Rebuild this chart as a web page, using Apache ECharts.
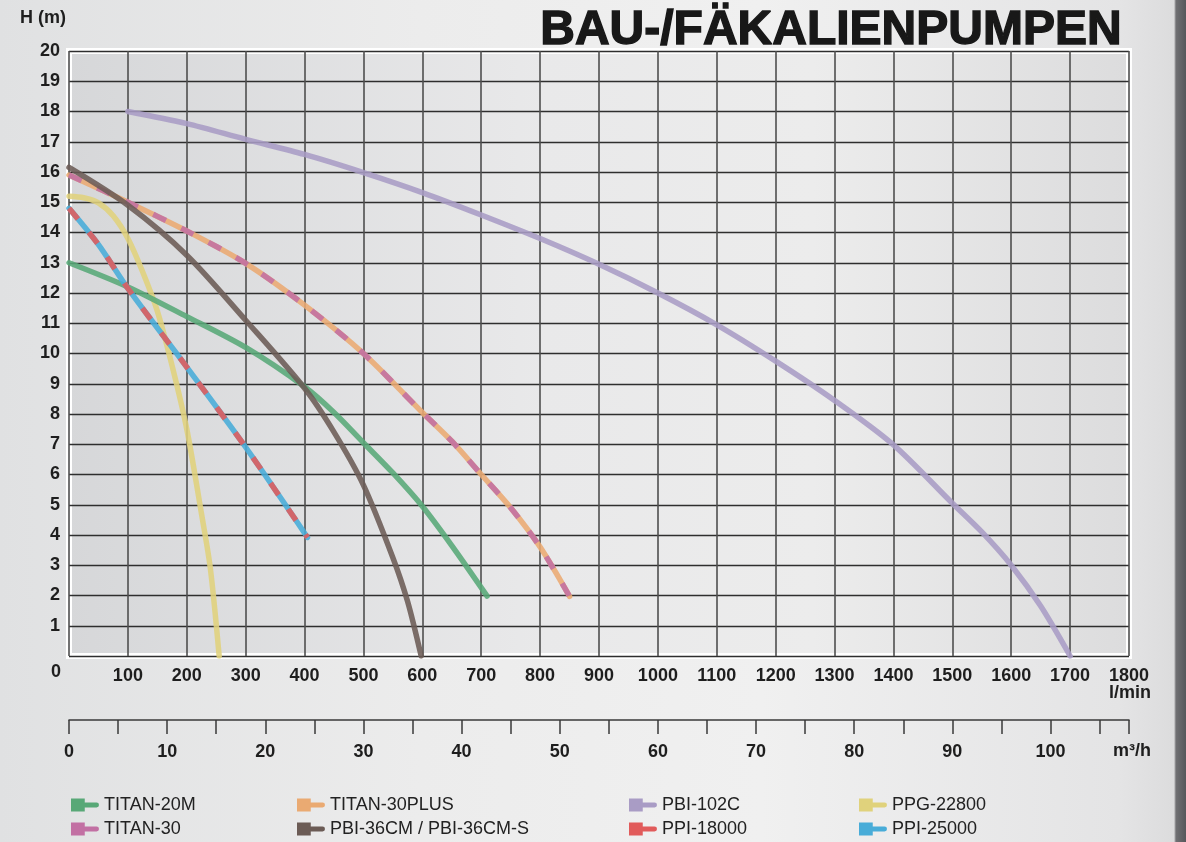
<!DOCTYPE html>
<html><head><meta charset="utf-8">
<script src="https://cdn.jsdelivr.net/npm/echarts@6/dist/echarts.min.js"></script>
<style>
html,body{margin:0;padding:0;}
body{width:1186px;height:842px;overflow:hidden;background:linear-gradient(to right,#e0e1e2 0px,#ececec 420px,#f0f0f0 760px,#e4e4e5 1120px,#dcdcdd 1174px,#707073 1176px,#56575b 1186px);}
#chart{width:1186px;height:842px;}
</style></head><body><div id="chart"></div>
<script>
// ---- data (flow l/min, head m) ----
const flowTicks = [0,100,200,300,400,500,600,700,800,900,1000,1100,1200,1300,1400,1500,1600,1700,1800];
const headTicks = [0,1,2,3,4,5,6,7,8,9,10,11,12,13,14,15,16,17,18,19,20];
const m3hTicks  = [0,5,10,15,20,25,30,35,40,45,50,55,60,65,70,75,80,85,90,95,100,105,108];
const m3hLabels = [0,10,20,30,40,50,60,70,80,90,100];

const titan20m  = [[0,13.0],[100,12.2],[200,11.22],[300,10.2],[400,8.9],[450,8.05],[500,7.05],[550,6.05],[600,4.95],[650,3.65],[710,1.98]];
const titan30   = [[0,15.9],[100,15.0],[200,14.05],[300,12.98],[400,11.6],[500,10.0],[600,8.05],[650,7.1],[700,6.0],[750,4.9],[800,3.6],[850,1.97]];
const titan30plus = titan30;
const pbi102c   = [[100,18.0],[200,17.6],[300,17.08],[400,16.58],[500,15.98],[600,15.32],[700,14.58],[800,13.8],[900,12.95],[1000,12.0],[1100,10.95],[1200,9.75],[1300,8.45],[1400,6.98],[1500,5.05],[1550,4.1],[1600,3.0],[1650,1.65],[1700,0]];
const ppg22800  = [[0,15.2],[25,15.15],[50,14.98],[75,14.55],[100,13.8],[125,12.7],[150,11.4],[175,9.6],[200,7.5],[225,4.7],[240,2.9],[255,0]];
const pbi36cm   = [[0,16.15],[100,14.9],[200,13.25],[300,11.1],[400,8.85],[450,7.4],[500,5.65],[550,3.25],[575,1.8],[598,0]];
const ppi18000  = [[0,14.8],[50,13.6],[100,12.15],[200,9.55],[300,6.9],[405,3.92]];
const ppi25000  = ppi18000;

const names = ['TITAN-20M','TITAN-30PLUS','PBI-102C','PPG-22800','TITAN-30','PBI-36CM / PBI-36CM-S','PPI-18000','PPI-25000'];
const colors = {
  'TITAN-20M':'#58a877','TITAN-30PLUS':'#eaaa72','PBI-102C':'#a99cc5','PPG-22800':'#e0d27c',
  'TITAN-30':'#c270a3','PBI-36CM / PBI-36CM-S':'#6b5b55','PPI-18000':'#e15b5b','PPI-25000':'#48acd8'
};

const FONT = '"Liberation Sans", Arial, Helvetica, sans-serif';
const chart = echarts.init(document.getElementById('chart'), null, {renderer:'canvas'});

function lineSeries(name, data, z, dash){
  return {
    type:'line', name:name, data:data, xAxisIndex:0, yAxisIndex:0,
    smooth:0.3, showSymbol:false, symbol:'none', z:z, silent:true,
    lineStyle:{color:colors[name], width:5.5, opacity:0.88, cap: dash ? 'butt':'round', type: dash ? [14,17] : 'solid'},
    itemStyle:{color:colors[name]}
  };
}

const icon = 'path://M0,0 H14 V13 H0 Z M14,4 H26 A2.5,2.5 0 0 1 26,9 H14 Z';
const colLeft = [66, 292, 624, 854];
const rowTop = [791, 815];
const legends = names.map((n, i) => ({
  left: colLeft[i % 4], top: rowTop[Math.floor(i / 4)], orient:'horizontal',
  itemWidth:28, itemHeight:13, selectedMode:false, icon:icon,
  textStyle:{fontFamily:FONT, fontSize:18, color:'#222'},
  data:[{name:n, icon:icon, itemStyle:{color:colors[n], borderWidth:0, opacity:1}}]
}));

const option = {
  animation:false,
  backgroundColor:'transparent',
  title:{text:'BAU-/FÄKALIENPUMPEN', right:58, top:2,
    textStyle:{fontFamily:FONT, fontSize:48, fontWeight:'bold', color:'#181818', textBorderColor:'#181818', textBorderWidth:1.4}},
  legend: legends,
  grid:[
    {left:69, top:51, width:1060, height:605, show:true,
     backgroundColor:new echarts.graphic.LinearGradient(0,0,1,0,[
       {offset:0,color:'#d6d7d9'},{offset:0.45,color:'#e9e9ea'},{offset:0.7,color:'#ececec'},{offset:1,color:'#dcdcdd'}]),
     borderColor:'#ffffff', borderWidth:6},
    {left:69, top:719, width:1060, height:1, show:false}
  ],
  xAxis:[
    {type:'value', gridIndex:0, min:0, max:1800, interval:100,
     axisLine:{show:false}, axisTick:{show:false},
     splitLine:{show:true, lineStyle:{color:'#4f4f4f', width:1.6}},
     axisLabel:{margin:11, fontFamily:FONT, fontSize:18, fontWeight:'bold', color:'#1e1e1e',
       customValues: flowTicks, formatter: v => v === 0 ? '' : String(v)}},
    {type:'value', gridIndex:1, min:0, max:108, position:'bottom',
     axisLine:{show:true, lineStyle:{color:'#3a3a3a', width:1.5}},
     axisTick:{show:true, length:14, customValues:m3hTicks, lineStyle:{color:'#3a3a3a', width:1.5}},
     splitLine:{show:false},
     axisLabel:{margin:23, fontFamily:FONT, fontSize:18, fontWeight:'bold', color:'#1e1e1e', customValues:m3hLabels}}
  ],
  yAxis:[
    {type:'value', gridIndex:0, min:0, max:20, interval:1,
     axisLine:{show:false}, axisTick:{show:false},
     splitLine:{show:true, lineStyle:{color:'#2e2e2e', width:1.3}},
     axisLabel:{margin:9, fontFamily:FONT, fontSize:18, fontWeight:'bold', color:'#1e1e1e',
       customValues: headTicks, formatter: v => v === 0 ? '' : String(v)}},
    {type:'value', gridIndex:1, show:false, min:0, max:1}
  ],
  graphic:[
    {type:'text', x:20, y:18, silent:true, style:{text:'H (m)', font:'bold 18px ' + FONT, fill:'#1e1e1e', align:'left', verticalAlign:'middle'}},
    {type:'text', x:56, y:672, silent:true, style:{text:'0', font:'bold 18px ' + FONT, fill:'#1e1e1e', align:'center', verticalAlign:'middle'}},
    {type:'text', x:1151, y:693, silent:true, style:{text:'l/min', font:'bold 18px ' + FONT, fill:'#1e1e1e', align:'right', verticalAlign:'middle'}},
    {type:'text', x:1151, y:751, silent:true, style:{text:'m³/h', font:'bold 18px ' + FONT, fill:'#1e1e1e', align:'right', verticalAlign:'middle'}}
  ],
  series:[
    lineSeries('PPG-22800', ppg22800, 2, false),
    lineSeries('TITAN-20M', titan20m, 3, false),
    lineSeries('TITAN-30PLUS', titan30plus, 4, false),
    lineSeries('TITAN-30', titan30, 5, true),
    lineSeries('PPI-25000', ppi25000, 6, false),
    lineSeries('PPI-18000', ppi18000, 7, true),
    lineSeries('PBI-36CM / PBI-36CM-S', pbi36cm, 8, false),
    lineSeries('PBI-102C', pbi102c, 9, false)
  ]
};
chart.setOption(option);
</script>
</body></html>
